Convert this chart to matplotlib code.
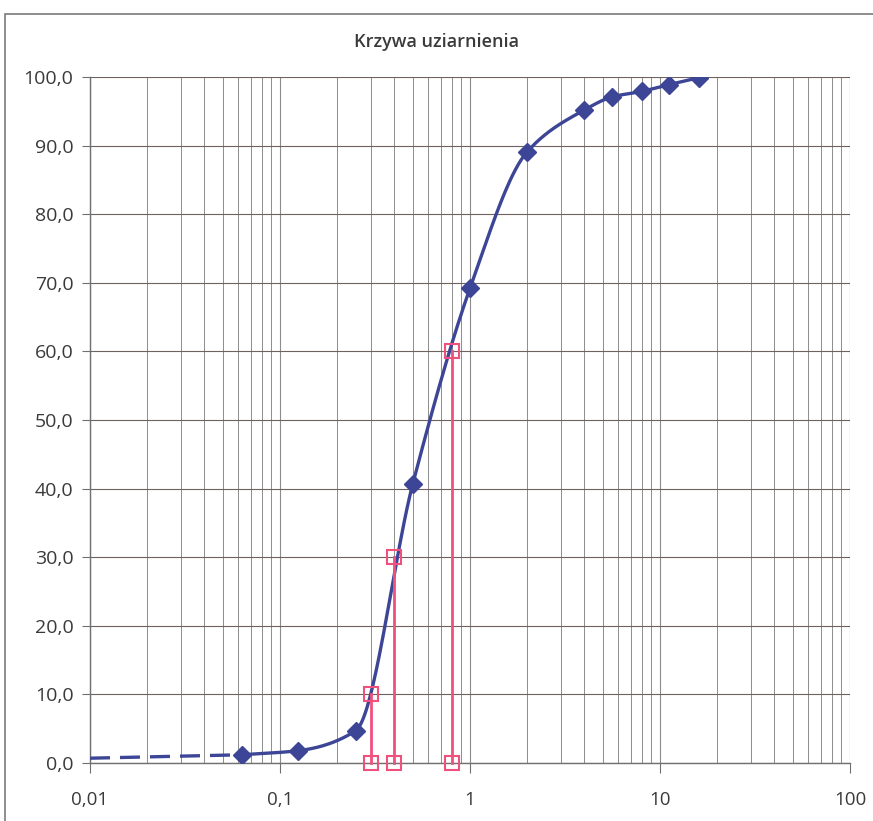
"""Krzywa uziarnienia - odtworzenie wykresu."""

import matplotlib

matplotlib.use("Agg")
import matplotlib.pyplot as plt
import numpy as np
from matplotlib.patches import Rectangle
from matplotlib.ticker import FixedLocator, FuncFormatter, LogLocator, NullFormatter

# Dane
sieve_mm = [0.063, 0.125, 0.25, 0.5, 1.0, 2.0, 4.0, 5.6, 8.0, 11.2, 16.0]
passing_pct = [1.2, 1.8, 4.7, 40.7, 69.2, 89.1, 95.2, 97.1, 97.9, 98.9, 99.9]

# przedluzenie przerywane do 0,01 mm
ext_mm = [0.01, 0.063]
ext_pct = [0.7, 1.2]

# srednice charakterystyczne d10, d30, d60
d_mm = [0.3, 0.4, 0.8]
d_pct = [10.0, 30.0, 60.0]

y_ticks = list(range(0, 101, 10))
x_ticks = [0.01, 0.1, 1, 10, 100]

BLUE = "#3d4696"
PINK = "#f0507c"
GRID_V = "#8c8c8c"
GRID_H = "#6f625e"
TEXT = "#3a3a3a"


def smooth_curve(xs, ys, n=40):
    """Monotoniczna krzywa Hermite'a (PCHIP) w przestrzeni log(x), bez przerzutow."""
    x = np.log10(np.asarray(xs, dtype=float))
    y = np.asarray(ys, dtype=float)
    h = np.diff(x)
    delta = np.diff(y) / h
    m = np.zeros_like(y)
    for k in range(1, len(y) - 1):
        if delta[k - 1] * delta[k] > 0:
            w1 = 2 * h[k] + h[k - 1]
            w2 = h[k] + 2 * h[k - 1]
            m[k] = (w1 + w2) / (w1 / delta[k - 1] + w2 / delta[k])
    m[0] = delta[0]
    m[-1] = delta[-1]
    out_x, out_y = [], []
    t = np.linspace(0, 1, n)
    for k in range(len(h)):
        h00 = 2 * t ** 3 - 3 * t ** 2 + 1
        h10 = t ** 3 - 2 * t ** 2 + t
        h01 = -2 * t ** 3 + 3 * t ** 2
        h11 = t ** 3 - t ** 2
        out_x.append(x[k] + t * h[k])
        out_y.append(h00 * y[k] + h10 * h[k] * m[k] + h01 * y[k + 1] + h11 * h[k] * m[k + 1])
    return 10 ** np.concatenate(out_x), np.concatenate(out_y)


plt.rcParams["font.family"] = ["Open Sans", "DejaVu Sans"]

fig = plt.figure(figsize=(8.73, 8.21), dpi=100)
ax = fig.add_axes([90 / 873, 1 - 763 / 821, 760 / 873, 686 / 821])

# ramka obszaru wykresu
fig.add_artist(Rectangle((5 / 873, -0.01), 1.0, 1 - 14 / 821 + 0.01,
                         transform=fig.transFigure, fill=False,
                         edgecolor="#7a7a7a", lw=1.2))

ax.set_xscale("log")
ax.set_xlim(0.01, 100)
ax.set_ylim(0, 100)

ax.xaxis.set_major_locator(FixedLocator(x_ticks))
ax.xaxis.set_minor_locator(LogLocator(base=10, subs=np.arange(2, 10)))
ax.xaxis.set_minor_formatter(NullFormatter())
ax.xaxis.set_major_formatter(FuncFormatter(lambda v, _: f"{v:g}".replace(".", ",")))
ax.set_yticks(y_ticks)
ax.yaxis.set_major_formatter(FuncFormatter(lambda v, _: f"{v:.1f}".replace(".", ",")))

ax.grid(which="major", axis="x", color=GRID_V, lw=0.8)
ax.grid(which="minor", axis="x", color=GRID_V, lw=0.7)
ax.grid(which="major", axis="y", color=GRID_H, lw=0.8)
ax.set_axisbelow(True)

for side in ["top", "right"]:
    ax.spines[side].set_visible(False)
for side in ["left", "bottom"]:
    ax.spines[side].set_color("#707070")
    ax.spines[side].set_linewidth(1.0)

ax.tick_params(axis="y", which="major", direction="out", length=6, color="#707070",
               labelsize=14, labelcolor=TEXT, pad=6)
ax.tick_params(axis="x", which="major", direction="out", length=7, color="#707070",
               labelsize=13.5, labelcolor=TEXT, pad=13)
ax.tick_params(axis="x", which="minor", length=0)

# linia przerywana i wygladzona krzywa
ax.plot(ext_mm, ext_pct, color=BLUE, lw=2.4, ls=(0, (6, 3)), zorder=3)
sx, sy = smooth_curve(sieve_mm, passing_pct)
ax.plot(sx, sy, color=BLUE, lw=2.4, zorder=3)
ax.plot(sieve_mm, passing_pct, ls="none", marker="D", ms=9.5, color=BLUE, zorder=4)

# d10, d30, d60
for xd, yd in zip(d_mm, d_pct):
    ax.plot([xd, xd], [0, yd], color=PINK, lw=2.0, marker="s", ms=10,
            mfc="none", mec=PINK, mew=1.5, zorder=5, clip_on=False)

fig.text(0.5, 1 - 42 / 821, "Krzywa uziarnienia", ha="center", va="center",
         fontsize=13, fontweight="semibold", color=TEXT)

fig.savefig("out.png", dpi=100)
